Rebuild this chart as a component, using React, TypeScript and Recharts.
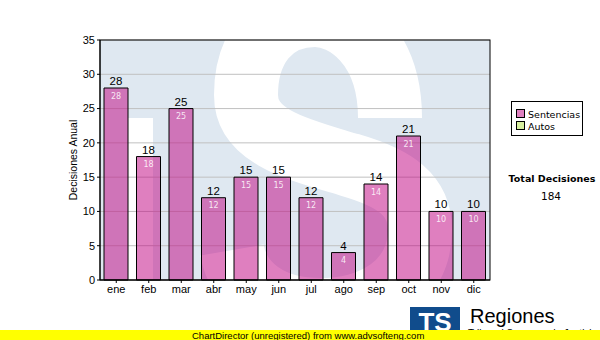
import { Bar, BarChart, CartesianGrid, LabelList, XAxis, YAxis } from "recharts";

const MONTHS = ["ene", "feb", "mar", "abr", "may", "jun", "jul", "ago", "sep", "oct", "nov", "dic"];
const SENTENCIAS = [28, 18, 25, 12, 15, 15, 12, 4, 14, 21, 10, 10];
const Y_TICKS = [0, 5, 10, 15, 20, 25, 30, 35];
const LEGEND = [
  { name: "Sentencias", color: "#e080c0" },
  { name: "Autos", color: "#d8f0a0" },
];

const ARIAL = "'Liberation Sans', Arial, sans-serif";
const VERDANA = "'DejaVu Sans', Verdana, sans-serif";

// plot box, matches the chart margins below
const PLOT = { x: 100, y: 40, w: 390, h: 240 };

const data = MONTHS.map((m, i) => ({ month: m, sentencias: SENTENCIAS[i] }));
const total = SENTENCIAS.reduce((a, b) => a + b, 0);

function Watermark() {
  return (
    <svg width={600} height={340} style={{ position: "absolute", left: 0, top: 0 }}>
      <defs>
        <clipPath id="plotClip">
          <rect x={PLOT.x} y={PLOT.y} width={PLOT.w} height={PLOT.h} />
        </clipPath>
      </defs>
      <g clipPath="url(#plotClip)">
        <rect x={PLOT.x} y={PLOT.y} width={PLOT.w} height={PLOT.h} fill="#dfe8f1" />
        <rect x={128} y={118} width={25} height={170} fill="#ffffff" />
        <path
          d="M 390 118 C 390 45, 345 15, 315 15 C 270 15, 246 50, 246 95 C 246 138, 300 150, 350 165 C 395 178, 420 195, 420 230 C 420 285, 370 310, 320 310 C 270 310, 238 285, 232 250"
          fill="none"
          stroke="#ffffff"
          strokeWidth={64}
        />
      </g>
    </svg>
  );
}

function Overlay() {
  return (
    <svg
      width={600}
      height={340}
      style={{ position: "absolute", left: 0, top: 0, pointerEvents: "none" }}
    >
      <rect x={PLOT.x} y={PLOT.y} width={PLOT.w} height={PLOT.h} fill="none" stroke="#000" strokeWidth={1} />
      <text
        x={77}
        y={160}
        transform="rotate(-90 77 160)"
        textAnchor="middle"
        fontFamily={ARIAL}
        fontSize={10.5}
        fill="#000"
      >
        Decisiones Anual
      </text>

      <rect x={511.5} y={101.5} width={71} height={34} fill="#fff" stroke="#000" />
      {LEGEND.map((item, i) => (
        <g key={item.name}>
          <rect x={516.5} y={109.5 + i * 12} width={8} height={8} fill={item.color} stroke="#000" />
          <text x={528} y={117.5 + i * 12} fontFamily={VERDANA} fontSize={9.5} fill="#000">
            {item.name}
          </text>
        </g>
      ))}

      <text x={552} y={182} textAnchor="middle" fontFamily={VERDANA} fontSize={9.5} fontWeight="bold" fill="#000">
        Total Decisiones
      </text>
      <text x={551} y={200} textAnchor="middle" fontFamily={VERDANA} fontSize={10.5} fill="#000">
        {total}
      </text>

      <rect x={410} y={307} width={50} height={30} fill="#104c8c" />
      <text x={435} y={331} textAnchor="middle" fontFamily={ARIAL} fontSize={26} fontWeight="bold" fill="#fff">
        TS
      </text>
      <text x={470} y={323} fontFamily={ARIAL} fontSize={20} fill="#000">
        Regiones
      </text>
      <text x={468} y={337} fontFamily={ARIAL} fontSize={10} fill="#000">
        Tribunal Supremo de Justicia
      </text>

      <rect x={0} y={330} width={600} height={10} fill="#ffff00" />
      <text x={192} y={338.5} fontFamily={ARIAL} fontSize={9.5} fill="#000">
        ChartDirector (unregistered) from www.advsofteng.com
      </text>
    </svg>
  );
}

export default function App() {
  return (
    <div
      style={{
        position: "absolute",
        left: 0,
        top: 0,
        width: 600,
        height: 340,
        background: "#fff",
        overflow: "hidden",
      }}
    >
      <Watermark />
      <div style={{ position: "absolute", left: 0, top: 0 }}>
        <BarChart
          width={600}
          height={340}
          data={data}
          margin={{ top: 40, right: 110, bottom: 40, left: 70 }}
        >
          <CartesianGrid vertical={false} stroke="#c0c0c0" />
          <XAxis
            dataKey="month"
            height={20}
            tickLine={{ stroke: "#000" }}
            tickSize={3}
            axisLine={{ stroke: "#000" }}
            tick={{ fill: "#000", fontSize: 11, fontFamily: ARIAL }}
            interval={0}
          />
          <YAxis
            width={30}
            domain={[0, 35]}
            ticks={Y_TICKS}
            tickLine={{ stroke: "#000" }}
            tickSize={3}
            axisLine={{ stroke: "#000" }}
            tick={{ fill: "#000", fontSize: 11, fontFamily: ARIAL }}
          />
          <Bar
            dataKey="sentencias"
            barSize={24}
            fill="#c00080"
            fillOpacity={0.5}
            stroke="#000"
            strokeWidth={1}
            isAnimationActive={false}
          >
            <LabelList
              dataKey="sentencias"
              position="top"
              offset={3}
              fill="#000"
              fontSize={11.5}
              fontFamily={ARIAL}
            />
            <LabelList
              dataKey="sentencias"
              position="insideTop"
              offset={5}
              fill="#ffffff"
              fillOpacity={0.85}
              fontSize={8}
              fontFamily={VERDANA}
            />
          </Bar>
        </BarChart>
      </div>
      <Overlay />
    </div>
  );
}
